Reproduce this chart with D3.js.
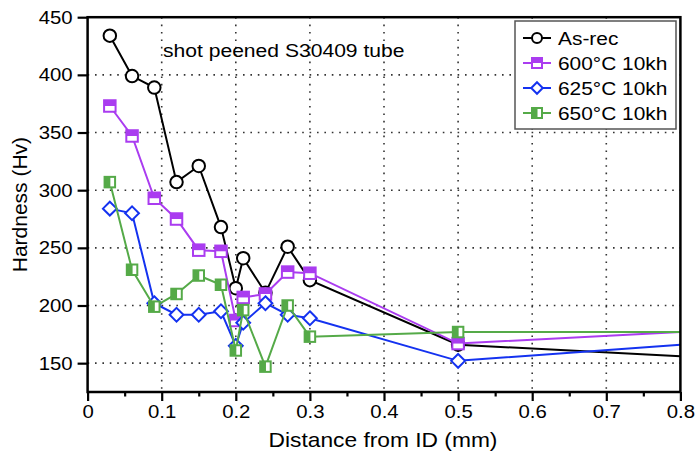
<!DOCTYPE html>
<html>
<head>
<meta charset="utf-8">
<script src="https://cdn.jsdelivr.net/npm/d3@7"></script>
<style>
  html, body { margin: 0; padding: 0; background: #fff; }
  svg { display: block; font-family: "Liberation Sans", Arial, Helvetica, sans-serif; }
  .tick text { fill: #000; }
  .wide-end { transform-box: fill-box; transform-origin: right center; transform: scaleX(1.1); }
  .wide-mid { transform-box: fill-box; transform-origin: center center; transform: scaleX(1.1); }
</style>
</head>
<body>
<script>
// Hardness profiles of a shot-peened S30409 tube, as received and after ageing
const distance = [0.03, 0.06, 0.09, 0.12, 0.15, 0.18, 0.20, 0.21, 0.24, 0.27, 0.30, 0.50, 0.80];
const asRec  = [434, 399, 389, 307, 321, 268, 215, 241, 211, 251, 222, 166, 156];
const aged600 = [373, 347, 293, 275, 248, 247, 187, 207, 210, 229, 228, 167, 177];
const aged625 = [284, 280, 202, 192, 192, 195, 165, 185, 202, 192, 189, 152, 166];
const aged650 = [307, 231, 199, 210, 226, 218, 161, 196, 147, 200, 173, 177, 177];

const seriesNames = ["As-rec", "600°C 10kh", "625°C 10kh", "650°C 10kh"];
const seriesValues = [asRec, aged600, aged625, aged650];
const seriesColors = ["#000000", "#aa3cf0", "#1432f0", "#55aa48"];
const seriesMarkers = ["circle", "squareTop", "diamond", "squareLeft"];

const xTicks = [0, 0.1, 0.2, 0.3, 0.4, 0.5, 0.6, 0.7, 0.8];
const xMinorTicks = [0.05, 0.15, 0.25, 0.35, 0.45, 0.55, 0.65, 0.75];
const yTicks = [150, 200, 250, 300, 350, 400, 450];
const xGrid = [0.1, 0.2, 0.3, 0.4, 0.5, 0.6, 0.7];
const yGrid = [150, 200, 250, 300, 350, 400];

const titleText = "shot peened S30409 tube";
const xLabel = "Distance from ID (mm)";
const yLabel = "Hardness (Hv)";

const W = 696, H = 454;
const plot = { left: 87.6, right: 680.4, top: 17.2, bottom: 392 };

const svg = d3.select("body").append("svg").attr("width", W).attr("height", H);

const x = d3.scaleLinear().domain([0, 0.8]).range([plot.left, plot.right]);
const y = d3.scaleLinear().domain([125, 450]).range([plot.bottom, plot.top]);

// dotted grid
const grid = svg.append("g").attr("stroke", "#333").attr("stroke-width", 1.6)
  .attr("stroke-dasharray", "1.6,5.8").attr("stroke-linecap", "butt");
grid.selectAll("line.gx").data(xGrid).join("line").attr("class", "gx")
  .attr("x1", d => x(d)).attr("x2", d => x(d)).attr("y1", plot.top).attr("y2", plot.bottom);
grid.selectAll("line.gy").data(yGrid).join("line").attr("class", "gy")
  .attr("y1", d => y(d)).attr("y2", d => y(d)).attr("x1", plot.left).attr("x2", plot.right);

// clip for series lines
svg.append("defs").append("clipPath").attr("id", "plotClip")
  .append("rect").attr("x", plot.left).attr("y", plot.top)
  .attr("width", plot.right - plot.left).attr("height", plot.bottom - plot.top);

const line = d3.line().x(d => x(d.x)).y(d => y(d.y));

function markerPath(sel, kind, color, s) {
  const h = s / 2;
  if (kind === "circle") {
    sel.append("circle").attr("r", h).attr("fill", "#fff").attr("stroke", color).attr("stroke-width", 2);
  } else if (kind === "diamond") {
    const r = h * 1.15;
    sel.append("path").attr("d", `M0,${-r}L${r},0L0,${r}L${-r},0Z`)
      .attr("fill", "#fff").attr("stroke", color).attr("stroke-width", 2).attr("stroke-linejoin", "miter");
  } else if (kind === "squareTop") {
    sel.append("rect").attr("x", -h).attr("y", -h).attr("width", s).attr("height", s).attr("fill", "#fff");
    sel.append("rect").attr("x", -h).attr("y", -h).attr("width", s).attr("height", s * 0.5).attr("fill", color);
    sel.append("rect").attr("x", -h).attr("y", -h).attr("width", s).attr("height", s)
      .attr("fill", "none").attr("stroke", color).attr("stroke-width", 2);
  } else if (kind === "squareLeft") {
    sel.append("rect").attr("x", -h).attr("y", -h).attr("width", s).attr("height", s).attr("fill", "#fff");
    sel.append("rect").attr("x", -h).attr("y", -h).attr("width", s * 0.55).attr("height", s).attr("fill", color);
    sel.append("rect").attr("x", -h).attr("y", -h).attr("width", s).attr("height", s)
      .attr("fill", "none").attr("stroke", color).attr("stroke-width", 2);
  }
}

const markerSize = [12.5, 11.5, 12, 10.5];

seriesValues.forEach((vals, i) => {
  const pts = distance.map((d, j) => ({ x: d, y: vals[j] }));
  const g = svg.append("g");
  g.append("path").datum(pts).attr("d", line).attr("fill", "none")
    .attr("stroke", seriesColors[i]).attr("stroke-width", 2).attr("clip-path", "url(#plotClip)");
  // points that sit on the right frame are only reached by the line
  g.selectAll("g.m").data(pts.filter(p => p.x < 0.8)).join("g").attr("class", "m")
    .attr("transform", p => `translate(${x(p.x)},${y(p.y)})`)
    .each(function () { markerPath(d3.select(this), seriesMarkers[i], seriesColors[i], markerSize[i]); });
});

// frame
svg.append("rect").attr("x", plot.left).attr("y", plot.top)
  .attr("width", plot.right - plot.left).attr("height", plot.bottom - plot.top)
  .attr("fill", "none").attr("stroke", "#000").attr("stroke-width", 2.5);

// axes
const xAxis = svg.append("g").attr("transform", `translate(0,${plot.bottom})`)
  .call(d3.axisBottom(x).tickValues(xTicks).tickFormat(d => d === 0 ? "0" : d3.format(".1f")(d))
    .tickSize(9).tickPadding(4));
xAxis.select(".domain").remove();
xAxis.selectAll(".tick line").attr("stroke", "#000").attr("stroke-width", 2.2);
xAxis.selectAll(".tick text").attr("font-size", 18.5).attr("class", "wide-mid").attr("font-family", null);

const xMinor = svg.append("g").attr("transform", `translate(0,${plot.bottom})`)
  .call(d3.axisBottom(x).tickValues(xMinorTicks).tickSize(4.5).tickFormat(""));
xMinor.select(".domain").remove();
xMinor.selectAll(".tick line").attr("stroke", "#000").attr("stroke-width", 2.2);

const yAxis = svg.append("g").attr("transform", `translate(${plot.left},0)`)
  .call(d3.axisLeft(y).tickValues(yTicks).tickSize(10).tickPadding(5));
yAxis.select(".domain").remove();
yAxis.selectAll(".tick line").attr("stroke", "#000").attr("stroke-width", 2.2);
yAxis.selectAll(".tick text").attr("font-size", 18.5).attr("class", "wide-end").attr("font-family", null);

// annotation inside the plot
svg.append("text").attr("transform", "translate(163,56.5) scale(1.11,1)")
  .attr("font-size", 19).text(titleText);

// axis titles
svg.append("text").attr("transform", `translate(${(plot.left + plot.right) / 2 - 1},447) scale(1.1,1)`)
  .attr("text-anchor", "middle").attr("font-size", 20.7).text(xLabel);
svg.append("text").attr("transform", `translate(27,${(plot.top + plot.bottom) / 2}) rotate(-90)`)
  .attr("text-anchor", "middle").attr("font-size", 21).text(yLabel);

// legend
const lg = svg.append("g");
lg.append("rect").attr("x", 515).attr("y", 21).attr("width", 161).attr("height", 108)
  .attr("fill", "#fff").attr("stroke", "#555").attr("stroke-width", 1.5);
seriesNames.forEach((name, i) => {
  const cy = 38 + i * 25;
  const row = lg.append("g").attr("transform", `translate(0,${cy})`);
  row.append("line").attr("x1", 523).attr("x2", 551).attr("y1", 0).attr("y2", 0)
    .attr("stroke", seriesColors[i]).attr("stroke-width", 2);
  const m = row.append("g").attr("transform", "translate(537,0)");
  markerPath(m, seriesMarkers[i], seriesColors[i], 10);
  row.append("text").attr("transform", "translate(558,0) scale(1.1,1)").attr("dy", "0.35em")
    .attr("font-size", 19).text(name);
});
</script>
</body>
</html>
